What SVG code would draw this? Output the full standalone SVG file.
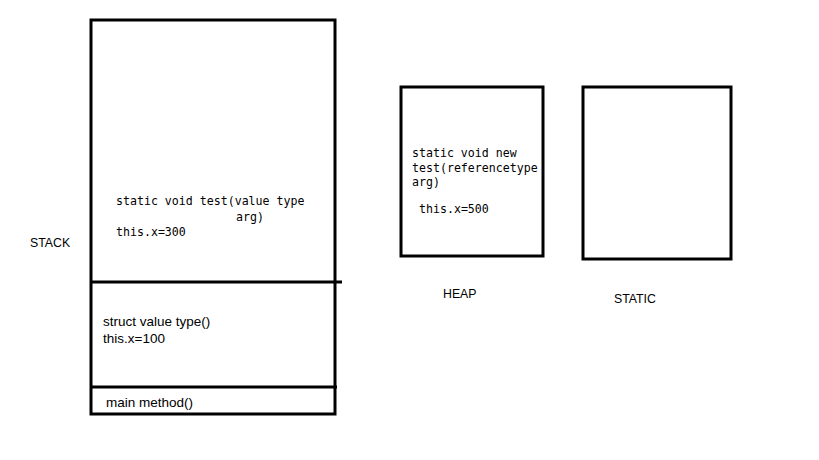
<svg xmlns="http://www.w3.org/2000/svg" width="819" height="460" viewBox="0 0 819 460">
<style>
.box{fill:none;stroke:#000;stroke-width:3}
.mono{font-family:"DejaVu Sans Mono","Liberation Mono",monospace;font-size:11.6px;fill:#000}
.sans{font-family:"Liberation Sans",Arial,sans-serif;font-size:13.5px;fill:#000}
.cap{font-family:"Liberation Sans",Arial,sans-serif;font-size:12.3px;fill:#000}
</style>
<rect width="819" height="460" fill="#fff"/>
<g id="stack">
<rect class="box" x="91" y="20" width="244" height="394"/>
<text class="mono" x="116" y="205">static void test(value type</text>
<text class="mono" x="236" y="221">arg)</text>
<text class="mono" x="116" y="236">this.x=300</text>
</g>
<g id="stack-dividers">
<line class="box" x1="90" y1="282" x2="342" y2="282"/>
<line class="box" x1="91" y1="387" x2="337" y2="387"/>
</g>
<g id="struct-frame">
<text class="sans" x="103" y="326">struct value type()</text>
<text class="sans" x="103" y="343">this.x=100</text>
</g>
<g id="main-frame">
<text class="sans" x="106" y="407">main method()</text>
</g>
<g id="stack-label"><text class="cap" x="30" y="247">STACK</text></g>
<g id="heap">
<rect class="box" x="401" y="87" width="142" height="169"/>
<text class="mono" x="412" y="157">static void new</text>
<text class="mono" x="412" y="172">test(referencetype</text>
<text class="mono" x="412" y="186">arg)</text>
<text class="mono" x="419" y="213">this.x=500</text>
</g>
<g id="heap-label"><text class="cap" x="443" y="298">HEAP</text></g>
<g id="static">
<rect class="box" x="583" y="87" width="148" height="172"/>
</g>
<g id="static-label"><text class="cap" x="614" y="303">STATIC</text></g>
</svg>
